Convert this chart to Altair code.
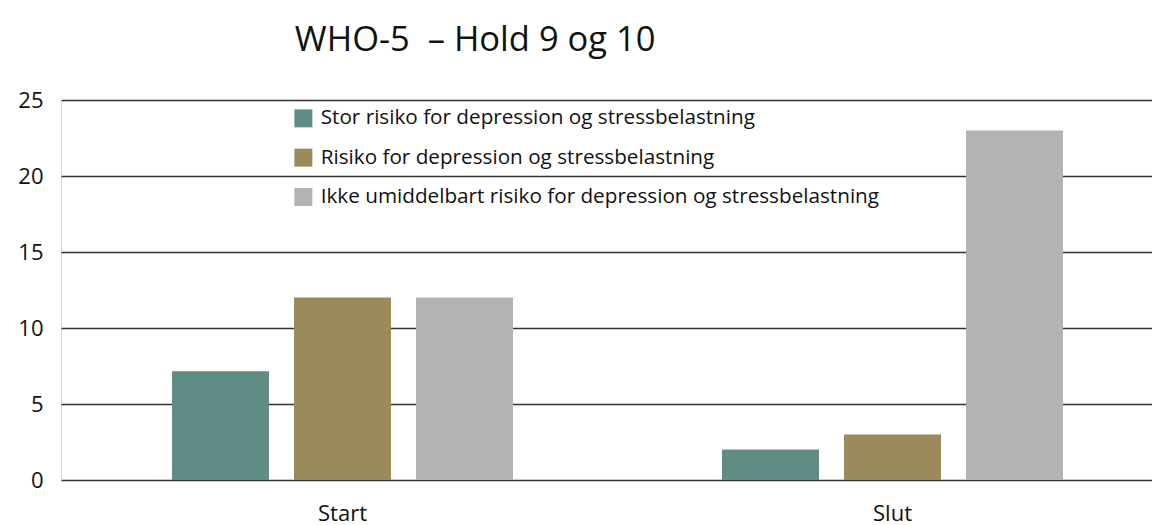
import altair as alt
import pandas as pd

groups = ["Start", "Slut"]
series = [
    "Stor risiko for depression og stressbelastning",
    "Risiko for depression og stressbelastning",
    "Ikke umiddelbart risiko for depression og stressbelastning",
]
colors = ["#5f8c85", "#9c8a5b", "#b3b3b3"]
start_values = [7.15, 12, 12]
slut_values = [2, 3, 23]
y_ticks = [0, 5, 10, 15, 20, 25]

rows = []
for s, v in zip(series, start_values):
    rows.append({"group": "Start", "series": s, "value": v})
for s, v in zip(series, slut_values):
    rows.append({"group": "Slut", "series": s, "value": v})
df = pd.DataFrame(rows)

FONT = "Open Sans"

chart = alt.Chart(df).mark_bar().encode(
    x=alt.X("group:N", sort=groups, title=None,
            scale=alt.Scale(paddingInner=0.38, paddingOuter=0.1818, align=0.555),
            axis=alt.Axis(labelAngle=0, labelFontSize=22, labelFont=FONT, labelColor="#111",
                          ticks=False, domain=False, labelPadding=23)),
    xOffset=alt.XOffset("series:N", sort=series,
                        scale=alt.Scale(paddingInner=0.205, paddingOuter=0)),
    y=alt.Y("value:Q", title=None,
            scale=alt.Scale(domain=[0, 25], nice=False),
            axis=alt.Axis(values=y_ticks, grid=True, gridColor="#333", gridWidth=1.6,
                          ticks=False, domain=False, labelFontSize=22, labelFont=FONT,
                          labelColor="#111", labelPadding=18)),
    color=alt.Color("series:N", sort=series,
                    scale=alt.Scale(domain=series, range=colors),
                    legend=alt.Legend(title=None, orient="none", legendX=232, legendY=8,
                                      symbolType="square", symbolSize=324, symbolStrokeWidth=0,
                                      labelFontSize=20.7, labelFont=FONT, labelColor="#111",
                                      rowPadding=17.3, labelOffset=7, labelLimit=800)),
).properties(
    width=1091,
    height=380,
    title=alt.TitleParams("WHO-5\u00a0 \u2013 Hold 9 og 10", fontSize=34.5, font=FONT,
                          fontWeight="normal", color="#111", anchor="start", dx=277,
                          offset=31),
    padding={"left": 53, "top": 92, "right": 0, "bottom": 45},
    autosize=alt.AutoSizeParams(type="none"),
).configure_view(stroke=None).configure(background="white")

chart.save("out.html", embed_options={"renderer": "svg", "actions": False})
